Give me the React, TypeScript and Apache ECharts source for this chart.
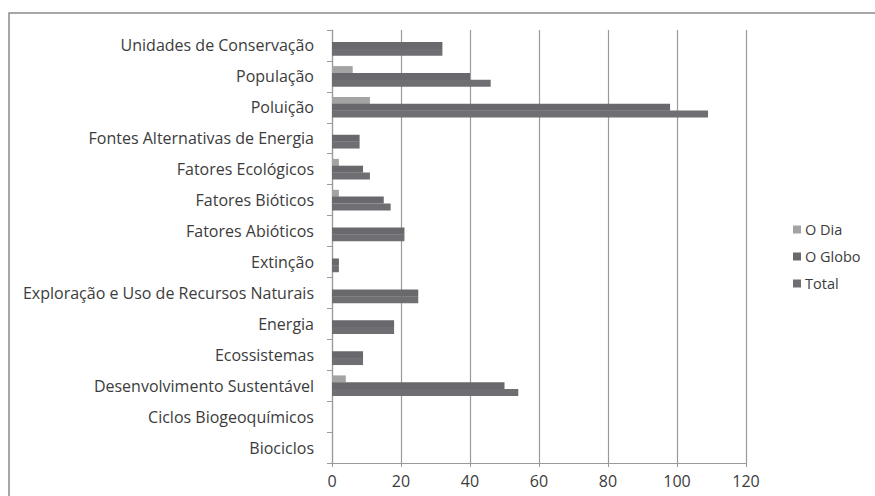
import React, { useEffect, useRef } from "react";
import * as echarts from "echarts";

const categories = [
  "Unidades de Conservação",
  "População",
  "Poluição",
  "Fontes Alternativas de Energia",
  "Fatores Ecológicos",
  "Fatores Bióticos",
  "Fatores Abióticos",
  "Extinção",
  "Exploração e Uso de Recursos Naturais",
  "Energia",
  "Ecossistemas",
  "Desenvolvimento Sustentável",
  "Ciclos Biogeoquímicos",
  "Biociclos",
];
const oDia = [0, 6, 11, 0, 2, 2, 0, 0, 0, 0, 0, 4, 0, 0];
const oGlobo = [32, 40, 98, 8, 9, 15, 21, 2, 25, 18, 9, 50, 0, 0];
const total = [32, 46, 109, 8, 11, 17, 21, 2, 25, 18, 9, 54, 0, 0];
const xTicks = [0, 20, 40, 60, 80, 100, 120];

const FONT = "Open Sans";
const TEXT = "#3c3c3c";

export default function App() {
  const ref = useRef<HTMLDivElement>(null);
  useEffect(() => {
    const chart = echarts.init(ref.current!, null, { renderer: "svg" });
    const barStyle = (c: string) => ({ color: c });
    chart.setOption({
      animation: false,
      backgroundColor: "#ffffff",
      textStyle: { fontFamily: FONT },
      graphic: [
        {
          type: "rect",
          shape: { x: 9, y: 13, width: 900, height: 520 },
          style: { fill: "none", stroke: "#8a8a8a", lineWidth: 1.5 },
          silent: true,
        },
      ],
      legend: {
        orient: "vertical",
        left: 788,
        top: 217,
        itemWidth: 8,
        itemHeight: 8,
        itemGap: 12,
        icon: "rect",
        textStyle: { color: TEXT, fontSize: 14.5, fontFamily: FONT, padding: [0, 0, 0, -1] },
        data: ["O Dia", "O Globo", "Total"],
      },
      grid: { left: 332, right: 129, top: 30, bottom: 33, containLabel: false },
      xAxis: {
        type: "value",
        min: xTicks[0],
        max: xTicks[xTicks.length - 1],
        interval: 20,
        axisLine: { show: true, lineStyle: { color: "#9a9a9a", width: 1.2 } },
        axisTick: { show: true, length: 4, lineStyle: { color: "#9a9a9a" } },
        splitLine: { show: true, lineStyle: { color: "#9a9a9a", width: 1.2 } },
        axisLabel: { color: TEXT, fontSize: 16, fontFamily: FONT, margin: 10 },
      },
      yAxis: {
        type: "category",
        inverse: true,
        data: categories,
        axisLine: { show: true, lineStyle: { color: "#9a9a9a", width: 1.2 } },
        axisTick: { show: true, length: 5, lineStyle: { color: "#9a9a9a" } },
        axisLabel: { color: TEXT, fontSize: 16, fontFamily: FONT, margin: 18 },
      },
      series: [
        { name: "O Dia", type: "bar", data: oDia, barWidth: 7, barGap: "-3%", itemStyle: barStyle("#a3a3a3") },
        { name: "O Globo", type: "bar", data: oGlobo, barWidth: 7, barGap: "-3%", itemStyle: barStyle("#69696d") },
        { name: "Total", type: "bar", data: total, barWidth: 7, barGap: "-3%", itemStyle: barStyle("#6f6f73") },
      ],
    });
    return () => chart.dispose();
  }, []);
  return (
    <div
      ref={ref}
      style={{ position: "fixed", left: 0, top: 0, width: 875, height: 496 }}
    />
  );
}
